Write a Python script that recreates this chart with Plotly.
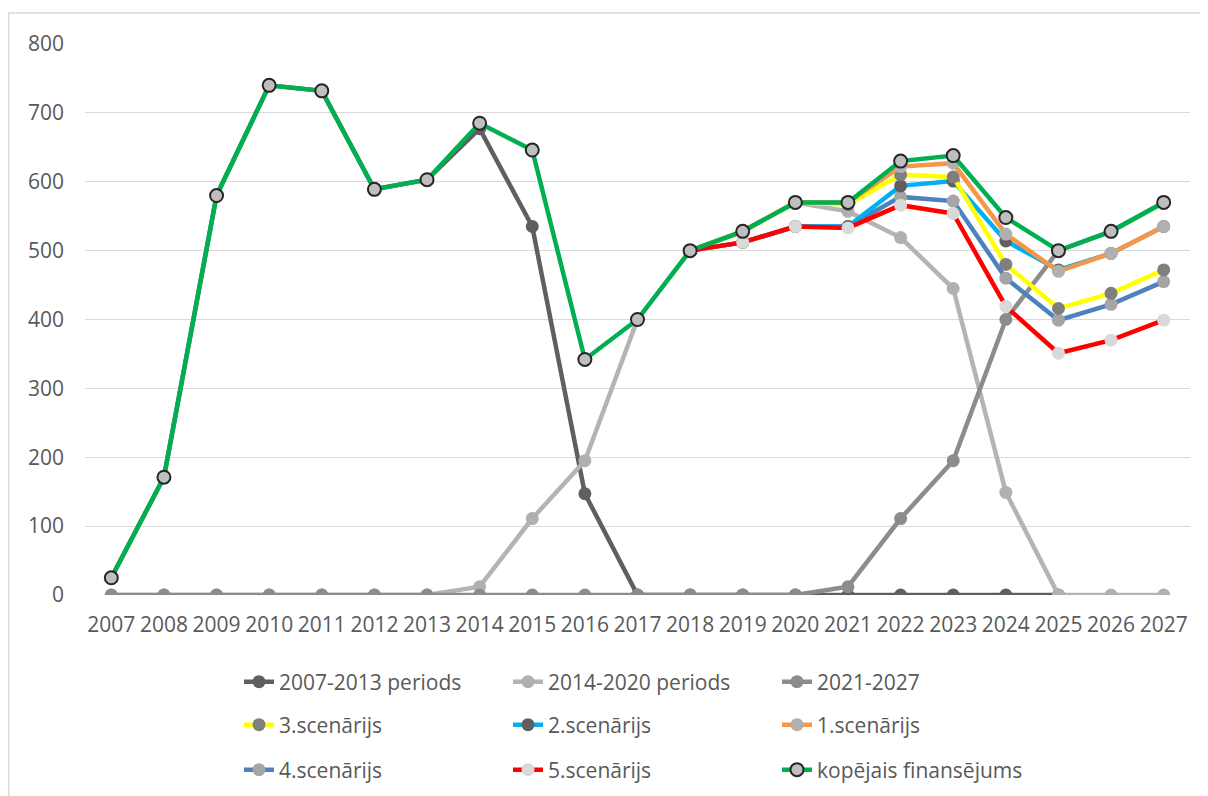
import plotly.graph_objects as go

years = [str(y) for y in range(2007, 2028)]

p2007_2013 = [25, 171, 580, 740, 732, 589, 603, 677, 535, 147, 0, 0, 0, 0, 0, 0, 0, 0, 0, None, None]
p2014_2020 = [0, 0, 0, 0, 0, 0, 0, 12, 111, 195, 400, 500, 528, 570, 557, 519, 445, 149, 0, 0, 0]
p2021_2027 = [0, 0, 0, 0, 0, 0, 0, 0, 0, 0, 0, 0, 0, 0, 12, 111, 195, 400, 500, 528, 570]

scen_years = years[11:]  # 2018..2027
scen3 = [500, 528, 570, 567, 610, 607, 480, 416, 438, 472]
scen2 = [500, 512, 535, 535, 594, 601, 514, 472, 496, 535]
scen1 = [500, 528, 570, 570, 622, 627, 524, 470, 496, 535]
scen4 = [500, 512, 535, 535, 578, 572, 460, 399, 422, 455]
scen5 = [500, 512, 535, 533, 566, 554, 419, 351, 370, 399]
total = [25, 171, 580, 740, 732, 589, 603, 685, 646, 342, 400, 500, 528, 570, 570, 630, 638, 548, 500, 528, 570]

FONT = "Open Sans"
TXT = "#595959"
W, H = 1200, 788  # page has an 8px body margin

fig = go.Figure()

def add(name, x, y, line_color, marker_color, legend, rank, outline=None):
    marker = dict(size=13, color=marker_color)
    if outline:
        marker["line"] = dict(color=outline, width=2)
    else:
        marker["line"] = dict(width=0)
    fig.add_trace(go.Scatter(
        x=x, y=y, name=name, mode="lines+markers",
        line=dict(color=line_color, width=4.5),
        marker=marker, legend=legend, legendrank=rank,
        connectgaps=False,
    ))

add("2007-2013 periods", years, p2007_2013, "#5f5f5f", "#5f5f5f", "legend", 1)
add("2014-2020 periods", years, p2014_2020, "#b4b4b4", "#b0b0b0", "legend", 2)
add("2021-2027", years, p2021_2027, "#8c8c8c", "#8c8c8c", "legend", 3)
add("4.scenārijs", scen_years, scen4, "#4f81bd", "#a5a5a5", "legend3", 7)
add("2.scenārijs", scen_years, scen2, "#00b0f0", "#5f5f5f", "legend2", 5)
add("3.scenārijs", scen_years, scen3, "#ffff00", "#7f7f7f", "legend2", 4)
add("1.scenārijs", scen_years, scen1, "#f79646", "#b0b0b0", "legend2", 6)
add("5.scenārijs", scen_years, scen5, "#ff0000", "#d9d9d9", "legend3", 8)
add("kopējais finansējums", years, total, "#00b050", "#bfbfbf", "legend3", 9, outline="#262626")

leg_common = dict(
    orientation="h", xref="container", yref="container",
    xanchor="left", yanchor="middle",
    entrywidth=224, entrywidthmode="pixels",
    font=dict(family=FONT, size=21, color=TXT),
    bgcolor="rgba(0,0,0,0)", traceorder="normal",
)

def ly(py):
    return 1 - (py - 8) / H

fig.update_layout(
    width=W, height=H,
    margin=dict(l=77, r=18, t=36, b=201),
    paper_bgcolor="white", plot_bgcolor="white",
    font=dict(family=FONT, size=21, color=TXT),
    showlegend=True,
    legend=dict(x=231 / W, y=ly(682), **leg_common),
    legend2=dict(x=231 / W, y=ly(725), **leg_common),
    legend3=dict(x=231 / W, y=ly(770), **leg_common),
    xaxis=dict(
        type="category", categoryorder="array", categoryarray=years,
        range=[-0.5, 20.5], showgrid=False, zeroline=False,
        showline=False, ticks="",
        tickfont=dict(family=FONT, size=21, color=TXT),
        ticklabelstandoff=15,
    ),
    yaxis=dict(
        range=[0, 800], tick0=0, dtick=100,
        showgrid=True, gridcolor="#d9d9d9", gridwidth=1.3,
        zeroline=False, showline=False, ticks="",
        tickfont=dict(family=FONT, size=21, color=TXT),
        ticklabelstandoff=20,
    ),
    shapes=[dict(
        type="rect", xref="paper", yref="paper",
        x0=(0.7 - 77) / 1105, x1=(1215 - 77) / 1105,
        y0=(587 - 800) / 551, y1=(587 - 5) / 551,
        line=dict(color="#d9d9d9", width=1.3), fillcolor="rgba(0,0,0,0)",
        layer="below",
    )],
)

fig.write_html("out.html")
